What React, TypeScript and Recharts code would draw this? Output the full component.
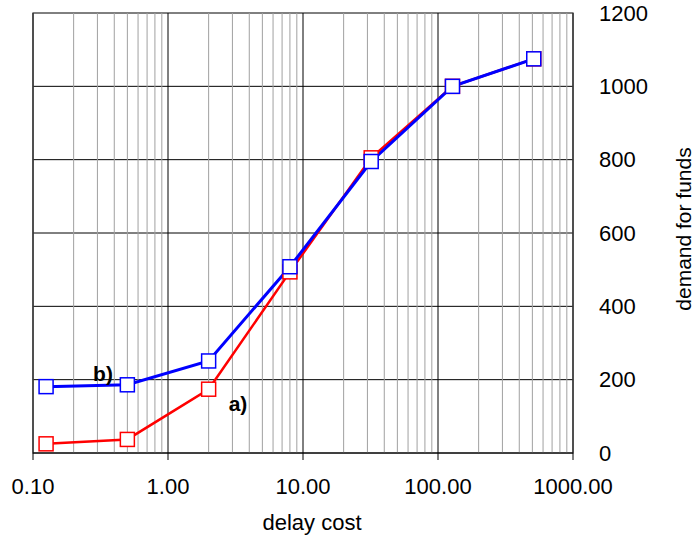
import { CartesianGrid, Line, LineChart, ReferenceArea, ReferenceDot, ReferenceLine, XAxis, YAxis } from "recharts";

const delayCost = [0.125, 0.5, 2, 8, 32, 128, 512];
const demandA = [25, 37, 174, 494, 805, 1000, 1075];
const demandB = [181, 186, 251, 508, 795, 1000, 1075];
const xTicks = [0.1, 1, 10, 100, 1000];
const yTicks = [0, 200, 400, 600, 800, 1000, 1200];
const minorSteps = [2, 3, 4, 5, 6, 7, 8, 9];

const data = delayCost.map((x, i) => ({ x, a: demandA[i], b: demandB[i] }));
const minorLines = xTicks.slice(0, -1).flatMap((d) => minorSteps.map((m) => d * m));

const FONT = "'Liberation Sans', Arial, sans-serif";

function SquareDot({ cx, cy, stroke }: any) {
  if (cx == null || cy == null) return null;
  return <rect x={cx - 7} y={cy - 7} width={14} height={14} fill="#fff" stroke={stroke} strokeWidth={1.5} />;
}

function XTitle({ viewBox }: any) {
  const { x, y, width } = viewBox;
  return (
    <text x={x + width / 2 + 9} y={y + 77} textAnchor="middle" fontSize={22} fontFamily={FONT} fill="#000">
      delay cost
    </text>
  );
}

function YTitle({ viewBox }: any) {
  const { x, y, height } = viewBox;
  const cx = x + 118;
  const cy = y + height / 2 - 4;
  return (
    <text x={cx} y={cy} transform={`rotate(-90 ${cx} ${cy})`} textAnchor="middle" fontSize={21} fontFamily={FONT} fill="#000">
      demand for funds
    </text>
  );
}

export default function App() {
  return (
    <div style={{ position: "absolute", left: 0, top: 0, background: "#fff" }}>
      <LineChart width={696} height={538} data={data} margin={{ top: 13, right: 0, left: 33, bottom: 40 }}>
        <CartesianGrid vertical={false} stroke="#000" strokeWidth={1} />
        {minorLines.map((v) => (
          <ReferenceLine key={v} x={v} stroke="#a0a0a0" strokeWidth={1} ifOverflow="hidden" />
        ))}
        {xTicks.map((v) => (
          <ReferenceLine key={"M" + v} x={v} stroke="#000" strokeWidth={1} />
        ))}
        <ReferenceArea x1={0.1} x2={1000} y1={0} y2={1200} fill="none" stroke="#808080" strokeWidth={1.5} />
        <XAxis
          dataKey="x"
          type="number"
          scale="log"
          domain={[0.1, 1000]}
          ticks={xTicks}
          allowDataOverflow
          tickFormatter={(v: number) => v.toFixed(2)}
          tick={{ fill: "#000", fontSize: 22, fontFamily: FONT }}
          tickSize={7}
          tickMargin={18}
          stroke="#000"
          height={45}
          label={<XTitle />}
        />
        <YAxis
          orientation="right"
          type="number"
          domain={[0, 1200]}
          ticks={yTicks}
          tickLine={false}
          axisLine={false}
          tickMargin={20}
          width={123}
          tick={{ fill: "#000", fontSize: 22, fontFamily: FONT, textAnchor: "start" }}
          label={<YTitle />}
        />
        <Line dataKey="a" stroke="#ff0000" strokeWidth={2.5} dot={<SquareDot stroke="#ff0000" />} isAnimationActive={false} />
        <Line dataKey="b" stroke="#0000ff" strokeWidth={3} dot={<SquareDot stroke="#0000ff" />} isAnimationActive={false} />
        <ReferenceDot x={3.3} y={134} r={0} label={{ value: "a)", position: "center", fill: "#000", fontSize: 21, fontWeight: "bold", fontFamily: FONT }} />
        <ReferenceDot x={0.33} y={216} r={0} label={{ value: "b)", position: "center", fill: "#000", fontSize: 21, fontWeight: "bold", fontFamily: FONT }} />
      </LineChart>
    </div>
  );
}
